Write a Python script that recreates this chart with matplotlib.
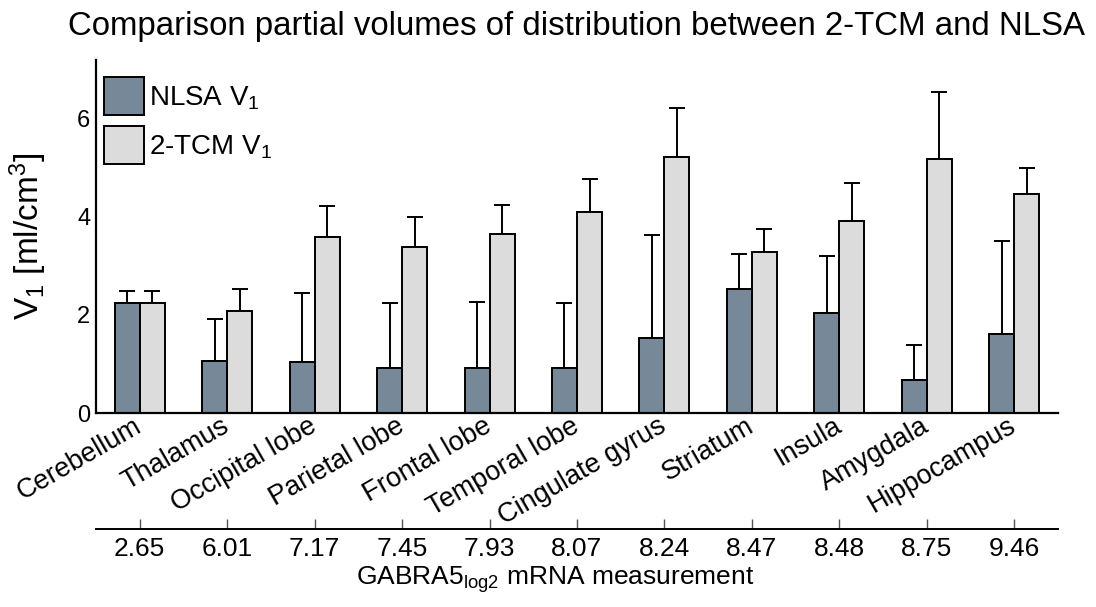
import matplotlib
matplotlib.use("Agg")
import matplotlib.pyplot as plt
import numpy as np

plt.rcParams["font.family"] = ["Liberation Sans", "DejaVu Sans"]
plt.rcParams["mathtext.fontset"] = "custom"
plt.rcParams["mathtext.rm"] = "Liberation Sans"
plt.rcParams["mathtext.it"] = "Liberation Sans:italic"
plt.rcParams["mathtext.bf"] = "Liberation Sans:bold"

# Brain regions, ordered by GABRA5 expression
regions = ["Cerebellum", "Thalamus", "Occipital lobe", "Parietal lobe",
           "Frontal lobe", "Temporal lobe", "Cingulate gyrus", "Striatum",
           "Insula", "Amygdala", "Hippocampus"]
gabra5_log2 = ["2.65", "6.01", "7.17", "7.45", "7.93", "8.07", "8.24",
               "8.47", "8.48", "8.75", "9.46"]

# Partial volume of distribution V1 [ml/cm^3], mean and upper SD
nlsa_v1 = [2.24, 1.05, 1.04, 0.92, 0.92, 0.92, 1.53, 2.52, 2.03, 0.67, 1.61]
nlsa_sd = [0.25, 0.87, 1.41, 1.32, 1.34, 1.32, 2.10, 0.72, 1.16, 0.71, 1.89]
tcm_v1 = [2.24, 2.07, 3.59, 3.39, 3.65, 4.09, 5.21, 3.28, 3.91, 5.17, 4.46]
tcm_sd = [0.25, 0.46, 0.63, 0.61, 0.59, 0.68, 1.00, 0.46, 0.77, 1.37, 0.53]

nlsa_color = "#778899"
tcm_color = "#dcdcdc"

W, H = 1096, 607
fig = plt.figure(figsize=(W / 100, H / 100), dpi=100)
ax_l, ax_r, ax_t, ax_b = 96, 1058, 60, 413
ax = fig.add_axes([ax_l / W, 1 - ax_b / H, (ax_r - ax_l) / W, (ax_b - ax_t) / H])

x = np.arange(len(regions))
bw = 0.286
lw = 1.4

ax.bar(x - bw / 2, nlsa_v1, bw, color=nlsa_color, edgecolor="black",
       linewidth=lw, label="NLSA V$_1$", zorder=2)
ax.bar(x + bw / 2, tcm_v1, bw, color=tcm_color, edgecolor="black",
       linewidth=lw, label="2-TCM V$_1$", zorder=2)

zeros = np.zeros(len(regions))
ax.errorbar(x - bw / 2, nlsa_v1, yerr=[zeros, nlsa_sd], fmt="none",
            ecolor="black", elinewidth=lw, capsize=6.1, capthick=lw, zorder=1)
ax.errorbar(x + bw / 2, tcm_v1, yerr=[zeros, tcm_sd], fmt="none",
            ecolor="black", elinewidth=lw, capsize=6.1, capthick=lw, zorder=1)

ax.set_xlim(-0.5, len(regions) - 0.5)
ax.set_ylim(0, 7.19)
ax.set_yticks([0, 2, 4, 6])
ax.tick_params(axis="y", length=0, labelsize=17, pad=4)
ax.set_xticks(x)
ax.set_xticklabels(regions, rotation=30, ha="right", va="center",
                   rotation_mode="anchor", fontsize=19.5)
ax.tick_params(axis="x", length=0, pad=8)
ax.spines["top"].set_visible(False)
ax.spines["right"].set_visible(False)
for s in ("left", "bottom"):
    ax.spines[s].set_linewidth(1.6)

ax.set_ylabel("V$_1$ [ml/cm$^3$]", fontsize=24, labelpad=20)

leg = ax.legend(loc="upper left", frameon=False, fontsize=20,
                handlelength=1.45, handleheight=1.73, handletextpad=0.18,
                labelspacing=0.4, borderaxespad=0.0, borderpad=0.0,
                bbox_to_anchor=((104 - ax_l) / (ax_r - ax_l),
                                1 - (77 - ax_t) / (ax_b - ax_t)))

ax.set_title("Comparison partial volumes of distribution between 2-TCM and NLSA",
             fontsize=23.8, pad=18)

# Second scale: GABRA5 mRNA expression for each region
sec = ax.secondary_xaxis(-(529 - ax_b) / (ax_b - ax_t))
sec.set_xticks(x)
sec.set_xticklabels(gabra5_log2, fontsize=19)
sec.tick_params(axis="x", direction="in", length=7, width=1, color="#555555", pad=6)
sec.spines["bottom"].set_linewidth(1.4)
sec.set_xlabel("GABRA5$_{\\mathrm{log2}}$ mRNA measurement", fontsize=19, labelpad=2)
sec.xaxis.label.set_x(0.477)

fig.savefig("out.png", dpi=100)
